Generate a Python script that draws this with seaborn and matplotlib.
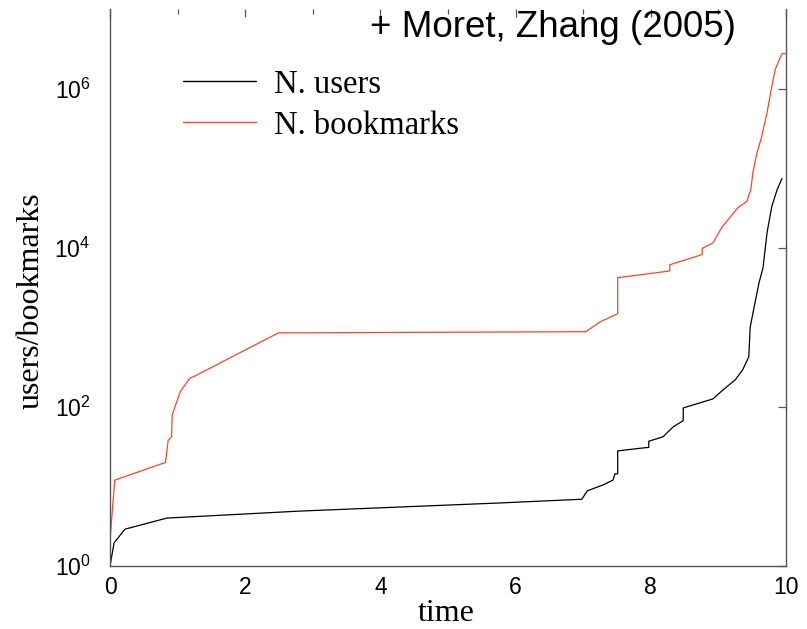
import matplotlib
matplotlib.use("Agg")
import matplotlib.pyplot as plt
from matplotlib.ticker import MultipleLocator, FixedLocator, NullLocator, LogFormatterMathtext
import seaborn as sns
import pandas as pd

# Growth of the service over time: cumulative users and bookmarks
users_time = [0.00, 0.06, 0.22, 0.84, 2.81, 5.77, 6.98, 7.06, 7.30, 7.44, 7.47,
              7.51, 7.51, 7.97, 7.97, 8.18, 8.33, 8.48, 8.48, 8.63, 8.92, 9.07,
              9.25, 9.36, 9.45, 9.47, 9.50, 9.53, 9.60, 9.66, 9.72, 9.79, 9.87, 9.94]
users_count = [1.0, 1.95, 2.9, 4.0, 4.9, 6.2, 6.9, 8.8, 10.5, 12, 14.4,
               14.4, 28, 31, 37, 42, 56, 67, 97, 106, 126, 164,
               219, 293, 426, 1000, 1350, 1820, 3600, 5600, 15500, 33000, 54000, 74000]

bookmarks_time = [0.00, 0.07, 0.82, 0.84, 0.86, 0.91, 0.92, 0.96, 1.04, 1.08, 1.18,
                  1.26, 2.49, 7.04, 7.25, 7.51, 7.51, 8.28, 8.28, 8.76, 8.76, 8.92,
                  9.05, 9.17, 9.29, 9.42, 9.48, 9.51, 9.57, 9.63, 9.72, 9.79, 9.84,
                  9.94, 10.00]
bookmarks_count = [2.1, 12, 20, 27, 38, 42, 79, 100, 155, 174, 229,
                   245, 850, 880, 1170, 1480, 4200, 5100, 6100, 8200, 9800, 11500,
                   18000, 24000, 32000, 38000, 54000, 88000, 156000, 230000, 500000,
                   1070000, 1740000, 2750000, 2750000]

series_names = ["N. users", "N. bookmarks"]
series_colors = ["#000000", "#ff4428"]
y_ticks = [1, 1e2, 1e4, 1e6]

df = pd.concat([
    pd.DataFrame({"time": users_time, "value": users_count, "series": series_names[0]}),
    pd.DataFrame({"time": bookmarks_time, "value": bookmarks_count, "series": series_names[1]}),
], ignore_index=True)

sns.set_theme(style="white")
plt.rcParams["font.family"] = ["Liberation Sans", "DejaVu Sans"]
plt.rcParams["mathtext.default"] = "regular"
plt.rcParams["text.color"] = "black"
plt.rcParams["axes.labelcolor"] = "black"

fig = plt.figure(figsize=(8.07, 6.29), dpi=100)
ax = fig.add_axes([110 / 807, 1 - 566 / 629, 676 / 807, 557 / 629])

sns.lineplot(data=df, x="time", y="value", hue="series", hue_order=series_names,
             palette=dict(zip(series_names, series_colors)), estimator=None,
             sort=False, linewidth=0.9, ax=ax)

ax.set_yscale("log")
ax.set_xlim(0, 10)
ax.set_ylim(1, 1e7)

ax.xaxis.set_major_locator(MultipleLocator(2))
ax.xaxis.set_minor_locator(MultipleLocator(1))
ax.yaxis.set_major_locator(FixedLocator(y_ticks))
ax.yaxis.set_minor_locator(NullLocator())
ax.yaxis.set_major_formatter(LogFormatterMathtext())

for side in ["left", "bottom", "right"]:
    ax.spines[side].set_color("#555555")
    ax.spines[side].set_linewidth(1.0)
ax.spines["top"].set_visible(False)

ax.tick_params(which="both", direction="in", top=True, right=True,
               color="#555555", width=0.9, labelcolor="black")
ax.tick_params(which="major", length=6, labelsize=16.5)
ax.tick_params(which="minor", length=3.5)
ax.tick_params(axis="x", pad=7)
ax.tick_params(axis="y", pad=14)

serif = ["Liberation Serif", "DejaVu Serif"]
ax.set_xlabel("time", fontsize=23, family=serif)
ax.set_ylabel("users/bookmarks", fontsize=23, family=serif)
ax.xaxis.set_label_coords(0.497, -0.060)
ax.yaxis.set_label_coords(-0.095, 0.476)

leg = ax.legend(loc="upper left", bbox_to_anchor=(0.108, 0.892), frameon=False,
                borderpad=0, borderaxespad=0, handlelength=2.25, handletextpad=0.55,
                labelspacing=0.32, prop={"family": serif, "size": 23.5})
for line in leg.get_lines():
    line.set_linewidth(1.0)
for txt in leg.get_texts():
    txt.set_color("black")

fig.text(370 / 807, 1 - 37 / 629, "+ Moret, Zhang (2005)", fontsize=26.5,
         ha="left", va="baseline", color="black")

fig.savefig("out.png", dpi=100)
